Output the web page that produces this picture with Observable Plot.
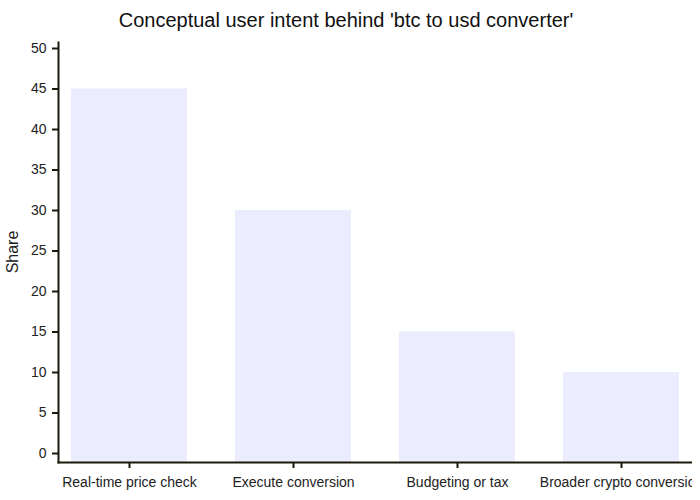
<!DOCTYPE html>
<html>
<head>
<meta charset="utf-8">
<script src="https://cdn.jsdelivr.net/npm/d3@7"></script>
<script src="https://cdn.jsdelivr.net/npm/@observablehq/plot@0.6"></script>
<style>
  body { margin: 0; background: #fff; font-family: "Liberation Sans", Arial, sans-serif; }
  #title { width: 692px; height: 40px; text-align: center; font-size: 20px; line-height: 40px; color: #111; }
  #chart svg { overflow: hidden; }
</style>
</head>
<body>
<div id="title">Conceptual user intent behind 'btc to usd converter'</div>
<div id="chart"></div>
<script>
const categories = ["Real-time price check", "Execute conversion", "Budgeting or tax", "Broader crypto conversion"];
const shares = [45, 30, 15, 10];
const yTicks = [0, 5, 10, 15, 20, 25, 30, 35, 40, 45, 50];

const data = categories.map((c, i) => ({category: c, share: shares[i]}));
const axisColor = "#1a1a0a";

const chart = Plot.plot({
  width: 692,
  height: 460,
  marginTop: 2,
  marginBottom: 38,
  marginLeft: 58,
  marginRight: 0,
  style: {fontFamily: "Liberation Sans, Arial, sans-serif", background: "#fff", color: "#222"},
  x: {domain: categories, range: [46, 705], paddingInner: 0.29, paddingOuter: 0.145, label: null},
  y: {domain: [0, 50], range: [413, 8], label: null},
  marks: [
    Plot.barY(data, {x: "category", y: "share", fill: "#ECECFF", insetBottom: -9}),
    Plot.axisY({ticks: yTicks, tickSize: 6, tickPadding: 6, fontSize: 14, stroke: axisColor, strokeWidth: 2, fill: "#222", label: null}),
    Plot.axisX({tickSize: 6, tickPadding: 9, fontSize: 14, stroke: axisColor, strokeWidth: 2, fill: "#222", label: null}),
    Plot.frame({anchor: "left", stroke: axisColor, strokeWidth: 2}),
    Plot.frame({anchor: "bottom", stroke: axisColor, strokeWidth: 2})
  ]
});
document.getElementById("chart").appendChild(chart);

// y axis title
const svg = d3.select(chart);
svg.append("text")
  .attr("transform", "translate(14,212) rotate(-90)")
  .attr("text-anchor", "middle")
  .attr("dominant-baseline", "middle")
  .attr("font-size", 16)
  .attr("fill", "#222")
  .text("Share");
</script>
</body>
</html>
